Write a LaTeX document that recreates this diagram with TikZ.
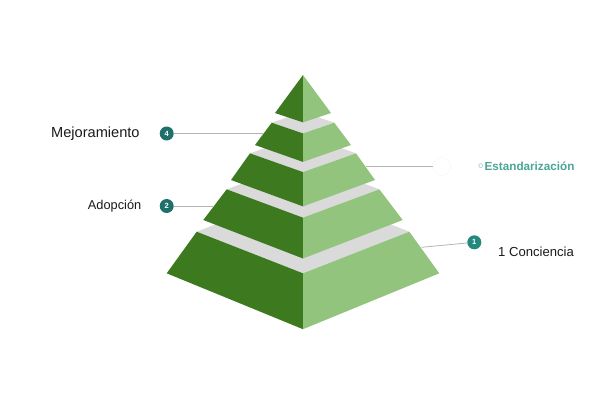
\documentclass[tikz,border=0pt]{standalone}
\usepackage{fontspec}
\setmainfont{Liberation Sans}
\newfontfamily\symfont{DejaVu Sans}
\usepackage{tikz}
\usetikzlibrary{calc, positioning}
\definecolor{darkleaf}{HTML}{3D7A1F}
\definecolor{lightleaf}{HTML}{93C47D}
\definecolor{bandgray}{HTML}{DADADA}
\definecolor{badgeteal}{HTML}{1F6F6A}
\definecolor{badgelight}{HTML}{24887D}
\definecolor{leadergray}{HTML}{B4B4B4}
\definecolor{inkblack}{HTML}{1A1A1A}
\definecolor{estteal}{HTML}{48A597}
\def\midx{303}
\tikzstyle{badge}=[circle,fill=badgeteal,text=white,minimum size=14pt,inner sep=0pt,font=\fontsize{7.5}{8}\selectfont\bfseries]
\tikzstyle{leader}=[draw=leadergray,line width=0.8pt]
\tikzstyle{caption}=[inner sep=0pt,text=inkblack]

\begin{document}
\begin{tikzpicture}[x=1pt,y=-1pt]
	\useasboundingbox (0,0) rectangle (608,405);
	% tiers, from the base up: top half width/y/front, bottom half width/y/front
	\foreach \wt/\yt/\ft/\wb/\yb/\fb in {106.3/231.7/273.3/136.3/273.3/329.2, 76.3/189.3/217.7/99.7/220/258.5, 53/153.3/172.1/72/180/206.4, 31.3/122.7/133.4/48/145/161.9}{
		\fill[bandgray] (\midx-\wt,\yt) -- (\midx,\ft) -- (\midx+\wt,\yt) -- (\midx,2*\yt-\ft) -- cycle;
		\fill[darkleaf] (\midx-\wt,\yt) -- (\midx,\ft) -- (\midx,\fb) -- (\midx-\wb,\yb) -- cycle;
		\fill[lightleaf] (\midx+\wt,\yt) -- (\midx,\ft) -- (\midx,\fb) -- (\midx+\wb,\yb) -- cycle;
	}
	\fill[darkleaf] (\midx,75) -- (275,113) -- (\midx,122.4) -- cycle;
	\fill[lightleaf] (\midx,75) -- (331,113) -- (\midx,122.4) -- cycle;

	\coordinate (E-4) at (263,133.5);
	\coordinate (E-3) at (366,166.5);
	\coordinate (E-2) at (214,206);
	\coordinate (E-1) at (421.5,247.3);
	\node[badge] (B-4) at (166.7,133.5) {4};
	\node[badge] (B-2) at (166.7,206) {2};
	\node[badge, fill=badgelight] (B-1) at (474.3,242.3) {1};
	\node[circle, fill=white, draw=black!4, minimum size=18pt] (B-3) at (441.7,166.5) {};
	\node[caption, left=19.7pt of B-4, font=\fontsize{14.6}{16}\selectfont] (L-4) {Mejoramiento};
	\node[caption, left=18pt of B-2, font=\fontsize{12.8}{14}\selectfont] (L-2) {Adopción};
	\node[caption, anchor=base west, font=\fontsize{13.1}{15}\selectfont] (L-1) at (498,256) {1 Conciencia};
	\node[caption, anchor=base west, text=estteal, font=\fontsize{11.7}{13}\selectfont\bfseries] (L-3) at (477,170) {{\symfont ◦}Estandarización};
	\path
	(B-4) edge[leader] (E-4)
	(B-2) edge[leader] (E-2)
	(B-3) edge[leader] (E-3)
	(B-1) edge[leader] (E-1);
\end{tikzpicture}
\end{document}
